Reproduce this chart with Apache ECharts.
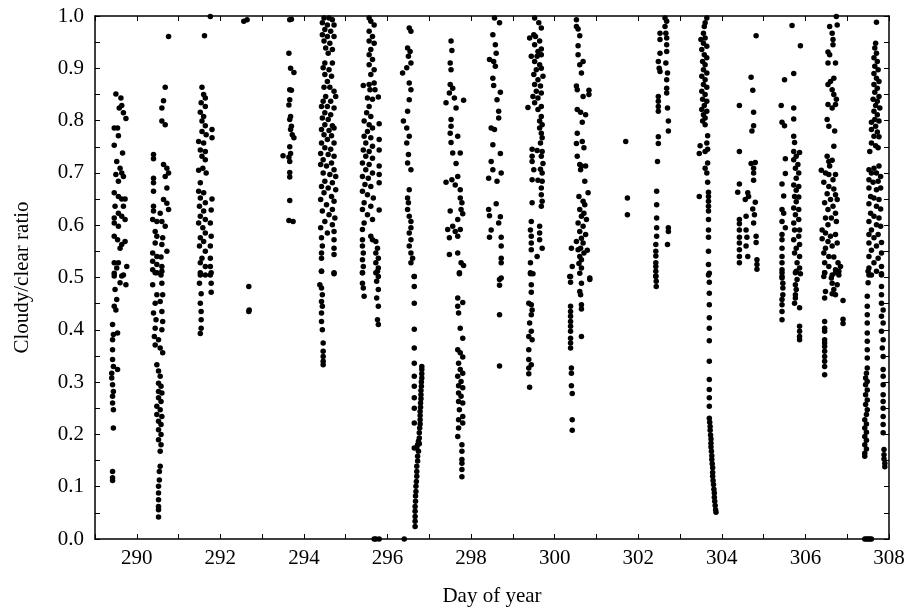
<!DOCTYPE html>
<html><head><meta charset="utf-8">
<script src="https://cdn.jsdelivr.net/npm/echarts@6/dist/echarts.min.js"></script>
<style>html,body{margin:0;padding:0;background:#fff}#c{width:911px;height:616px}</style>
</head><body><div id="c"></div>
<script>
const xMin = 289, xMax = 308;
const xTickLabels = ['290','292','294','296','298','300','302','304','306','308'];
const yTickLabels = ['0.0','0.1','0.2','0.3','0.4','0.5','0.6','0.7','0.8','0.9','1.0'];
const xName = 'Day of year';
const yName = 'Cloudy/clear ratio';

const day289 = [[289.50,0.851],[289.62,0.843],[289.64,0.829],[289.58,0.824],[289.68,0.815],[289.74,0.804],[289.46,0.786],[289.54,0.786],[289.56,0.771],[289.46,0.753],[289.66,0.738],[289.52,0.722],[289.60,0.709],[289.64,0.700],[289.50,0.697],[289.56,0.684],[289.68,0.693],[289.46,0.662],[289.56,0.655],[289.64,0.650],[289.72,0.650],[289.48,0.636],[289.68,0.636],[289.56,0.623],[289.46,0.614],[289.64,0.617],[289.72,0.611],[289.46,0.604],[289.56,0.598],[289.46,0.579],[289.54,0.572],[289.64,0.563],[289.72,0.569],[289.60,0.556],[289.46,0.528],[289.56,0.528],[289.52,0.518],[289.76,0.521],[289.64,0.503],[289.46,0.503],
[289.46,0.508],[289.68,0.505],[289.74,0.486],[289.60,0.490],[289.48,0.477],[289.52,0.458],[289.46,0.445],[289.50,0.438],[289.42,0.410],[289.44,0.391],[289.54,0.394],[289.42,0.381],[289.42,0.362],[289.42,0.343],[289.44,0.330],[289.54,0.324],[289.40,0.317],[289.40,0.308],[289.42,0.295],[289.44,0.282],[289.42,0.273],[289.42,0.260],[289.44,0.247],[289.44,0.212],[289.42,0.129],[289.42,0.117],[289.42,0.112]];

const day290 = [[290.68,0.864],[290.76,0.961],[290.64,0.838],[290.60,0.824],[290.60,0.799],[290.68,0.792],[290.40,0.735],[290.40,0.727],[290.64,0.716],[290.72,0.709],[290.76,0.700],[290.68,0.693],[290.40,0.690],[290.40,0.681],[290.72,0.671],[290.40,0.665],[290.64,0.649],[290.72,0.642],[290.40,0.636],[290.76,0.630],[290.40,0.627],[290.56,0.623],[290.38,0.611],[290.48,0.607],[290.60,0.607],[290.68,0.598],[290.44,0.588],[290.48,0.579],[290.62,0.576],[290.44,0.566],[290.60,0.563],[290.72,0.550],[290.38,0.547],[290.48,0.540],[290.58,0.539],[290.38,0.531],[290.48,0.525],[290.60,0.521],[290.38,0.515],[290.48,0.509],[290.58,0.505],
[290.44,0.509],[290.60,0.512],[290.38,0.486],[290.60,0.489],[290.48,0.467],[290.62,0.467],[290.44,0.451],[290.56,0.454],[290.40,0.432],[290.60,0.435],[290.46,0.419],[290.62,0.416],[290.44,0.403],[290.60,0.400],[290.42,0.387],[290.52,0.381],[290.44,0.371],[290.56,0.365],[290.62,0.356],[290.48,0.333],[290.52,0.321],[290.56,0.311],[290.52,0.298],[290.58,0.292],[290.52,0.282],[290.60,0.279],[290.52,0.270],[290.58,0.263],[290.48,0.254],[290.56,0.247],[290.48,0.238],[290.60,0.234],[290.52,0.225],[290.58,0.219],[290.52,0.209],[290.58,0.200],[290.52,0.190],[290.58,0.180],[290.56,0.168],[290.56,0.139],[290.54,0.129],[290.54,0.113],[290.52,0.101],[290.52,0.088],[290.52,0.075],[290.52,0.062],[290.52,0.056],[290.52,0.042]];

const day291 = [[291.76,0.999],[291.62,0.962],[291.56,0.864],[291.60,0.850],[291.64,0.843],[291.54,0.834],[291.64,0.827],[291.52,0.816],[291.60,0.808],[291.56,0.799],[291.64,0.790],[291.80,0.783],[291.56,0.779],[291.66,0.773],[291.80,0.767],[291.48,0.760],[291.60,0.757],[291.52,0.744],[291.64,0.741],[291.56,0.732],[291.64,0.725],[291.48,0.705],[291.58,0.709],[291.66,0.700],[291.52,0.681],[291.48,0.665],[291.60,0.662],[291.52,0.652],[291.80,0.650],[291.64,0.643],[291.50,0.636],[291.60,0.627],[291.78,0.629],[291.52,0.617],[291.64,0.611],[291.48,0.604],[291.58,0.595],[291.76,0.604],[291.64,0.585],[291.52,0.576],[291.78,0.579],[291.60,0.569],[291.50,0.560],[291.76,0.560],[291.64,0.550],[291.56,0.537],[291.76,0.537],[291.52,0.528],[291.64,0.521],[291.76,0.521],[291.52,0.509],[291.64,0.505],[291.76,0.505],
[291.52,0.505],[291.78,0.509],[291.50,0.489],[291.78,0.489],[291.54,0.469],[291.78,0.472],[291.52,0.451],[291.54,0.435],[291.54,0.419],[291.54,0.403],[291.52,0.393]];

const day292 = [[292.68,0.483],[292.68,0.435],[292.69,0.438],[292.56,0.990],[292.64,0.993]];

const day293 = [[293.66,0.993],[293.70,0.994],[293.64,0.929],[293.68,0.900],[293.76,0.892],[293.66,0.859],[293.70,0.858],[293.66,0.840],[293.64,0.830],[293.68,0.808],[293.66,0.802],[293.70,0.789],[293.68,0.783],[293.72,0.773],[293.76,0.767],[293.66,0.750],[293.68,0.737],[293.50,0.733],[293.64,0.730],[293.66,0.722],[293.66,0.701],[293.66,0.692],[293.66,0.647],[293.64,0.609],[293.74,0.607]];

const day294 = [[294.48,0.996],[294.60,0.996],[294.68,0.993],[294.44,0.987],[294.56,0.983],[294.72,0.983],[294.50,0.974],[294.64,0.971],[294.44,0.964],[294.56,0.961],[294.72,0.961],[294.48,0.952],[294.62,0.948],[294.52,0.939],[294.68,0.936],[294.58,0.929],[294.50,0.910],[294.68,0.910],[294.46,0.901],[294.60,0.897],[294.50,0.888],[294.66,0.885],[294.56,0.875],[294.48,0.864],[294.62,0.864],[294.72,0.856],[294.52,0.846],[294.76,0.846],[294.46,0.837],[294.64,0.837],[294.42,0.827],[294.56,0.827],[294.72,0.824],[294.50,0.815],[294.64,0.811],[294.44,0.805],[294.58,0.802],[294.50,0.792],[294.68,0.790],[294.42,0.783],[294.60,0.781],[294.72,0.786],[294.48,0.773],[294.66,0.771],[294.56,0.764],[294.42,0.757],[294.72,0.757],[294.50,0.748],[294.64,0.745],[294.40,0.737],[294.58,0.735],[294.72,0.732],[294.46,0.725],[294.66,0.719],[294.40,0.716],[294.54,0.713],[294.72,0.706],[294.46,0.700],[294.62,0.697],[294.76,0.693],[294.50,0.684],[294.68,0.681],[294.42,0.674],[294.58,0.671],[294.76,0.668],[294.48,0.662],[294.66,0.655],[294.40,0.649],[294.72,0.646],[294.54,0.639],[294.68,0.630],[294.44,0.627],[294.60,0.620],[294.74,0.614],[294.50,0.607],[294.68,0.601],[294.40,0.595],[294.72,0.588],[294.56,0.585],[294.42,0.576],[294.72,0.572],[294.44,0.560],[294.72,0.556],[294.42,0.547],[294.72,0.544],[294.42,0.537],[294.42,0.512],[294.72,0.509],
[294.42,0.512],[294.72,0.507],[294.38,0.486],[294.42,0.480],[294.44,0.467],[294.42,0.454],[294.44,0.445],[294.42,0.432],[294.42,0.416],[294.44,0.400],[294.46,0.375],[294.46,0.359],[294.46,0.349],[294.46,0.340],[294.46,0.333]];

const day295 = [[295.56,0.996],[295.60,0.990],[295.68,0.983],[295.56,0.971],[295.64,0.961],[295.56,0.952],[295.68,0.948],[295.60,0.936],[295.56,0.926],[295.64,0.917],[295.56,0.907],[295.68,0.897],[295.60,0.888],[295.42,0.867],[295.56,0.869],[295.68,0.872],[295.58,0.859],[295.70,0.859],[295.78,0.845],[295.52,0.843],[295.64,0.841],[295.56,0.827],[295.50,0.815],[295.60,0.808],[295.44,0.799],[295.56,0.792],[295.80,0.794],[295.64,0.786],[295.52,0.779],[295.44,0.770],[295.60,0.767],[295.80,0.764],[295.48,0.757],[295.64,0.751],[295.42,0.744],[295.56,0.741],[295.80,0.744],[295.48,0.732],[295.64,0.728],[295.40,0.719],[295.56,0.716],[295.80,0.713],[295.48,0.706],[295.64,0.700],[295.40,0.693],[295.54,0.690],[295.80,0.697],[295.46,0.678],[295.60,0.674],[295.80,0.681],[295.40,0.665],[295.52,0.658],[295.66,0.652],[295.44,0.643],[295.60,0.636],[295.80,0.629],[295.40,0.630],[295.52,0.620],[295.64,0.611],[295.44,0.604],[295.40,0.592],[295.60,0.579],[295.40,0.572],[295.64,0.572],
[295.40,0.560],[295.72,0.569],[295.76,0.556],[295.42,0.547],[295.72,0.547],[295.78,0.537],[295.40,0.534],[295.72,0.528],[295.42,0.521],[295.78,0.518],[295.72,0.509],[295.40,0.509],[295.78,0.502],
[295.40,0.509],[295.76,0.512],[295.40,0.489],[295.74,0.493],[295.42,0.480],[295.78,0.477],[295.44,0.464],[295.74,0.461],[295.78,0.445],[295.76,0.419],[295.78,0.410],
[295.68,0],[295.72,0],[295.80,0],[296.40,0]];

const day296 = [[296.52,0.977],[296.56,0.971],[296.48,0.939],[296.54,0.932],[296.50,0.923],[296.56,0.910],[296.46,0.901],[296.36,0.891],[296.52,0.872],[296.56,0.859],[296.52,0.840],[296.48,0.818],[296.38,0.799],[296.46,0.786],[296.52,0.770],[296.46,0.757],[296.50,0.735],[296.48,0.719],[296.56,0.706],[296.52,0.668],[296.48,0.652],[296.50,0.643],[296.48,0.630],[296.52,0.617],[296.56,0.607],[296.56,0.595],[296.52,0.585],[296.56,0.572],[296.52,0.560],[296.56,0.547],[296.60,0.537],[296.56,0.528],[296.64,0.502],
[296.64,0.502],[296.64,0.483],[296.64,0.451],[296.64,0.401],[296.64,0.365],[296.64,0.336],[296.64,0.311],[296.64,0.292],[296.64,0.270],[296.64,0.250],[296.64,0.222],[296.64,0.174],
[296.82,0.330],[296.82,0.324],[296.82,0.316],[296.82,0.308],[296.81,0.300],[296.81,0.292],[296.80,0.284],[296.80,0.276],[296.80,0.268],[296.79,0.260],[296.79,0.252],[296.78,0.244],[296.78,0.236],[296.78,0.228],[296.78,0.220],[296.77,0.212],[296.76,0.203],[296.76,0.193],[296.74,0.187],[296.72,0.180],[296.76,0.182],[296.70,0.174],[296.74,0.168],[296.72,0.158],[296.72,0.149],[296.70,0.139],[296.70,0.129],[296.70,0.120],[296.69,0.110],[296.68,0.101],[296.68,0.091],[296.67,0.082],[296.67,0.072],[296.66,0.062],[296.66,0.053],[296.66,0.043],[296.66,0.034],[296.66,0.024]];

const day297 = [[297.52,0.952],[297.54,0.934],[297.50,0.910],[297.52,0.897],[297.50,0.869],[297.56,0.862],[297.48,0.853],[297.40,0.834],[297.64,0.824],[297.82,0.839],[297.60,0.843],[297.52,0.802],[297.52,0.789],[297.50,0.776],[297.68,0.770],[297.52,0.758],[297.56,0.738],[297.74,0.738],[297.64,0.718],[297.40,0.682],[297.54,0.687],[297.68,0.693],[297.62,0.677],[297.74,0.668],[297.74,0.652],[297.78,0.643],[297.76,0.630],[297.50,0.627],[297.80,0.622],[297.68,0.611],[297.44,0.592],[297.56,0.598],[297.62,0.588],[297.74,0.592],[297.48,0.576],[297.68,0.579],[297.48,0.544],[297.68,0.547],[297.76,0.528],[297.82,0.523],[297.72,0.509],
[297.72,0.507],[297.68,0.461],[297.80,0.452],[297.68,0.445],[297.70,0.432],[297.74,0.403],[297.80,0.384],[297.68,0.362],[297.74,0.356],[297.80,0.348],[297.70,0.336],[297.74,0.324],[297.80,0.317],[297.68,0.311],[297.76,0.301],[297.70,0.293],[297.80,0.289],[297.70,0.279],[297.76,0.273],[297.70,0.263],[297.80,0.260],[297.72,0.247],[297.80,0.234],[297.70,0.228],[297.80,0.222],[297.70,0.212],[297.68,0.196],[297.78,0.180],[297.78,0.168],[297.78,0.152],[297.78,0.145],[297.78,0.133],[297.78,0.119]];

const day298 = [[298.56,0.996],[298.68,0.987],[298.52,0.964],[298.58,0.945],[298.60,0.929],[298.44,0.917],[298.54,0.913],[298.58,0.904],[298.52,0.881],[298.54,0.867],[298.70,0.854],[298.62,0.840],[298.66,0.818],[298.66,0.805],[298.48,0.786],[298.56,0.783],[298.52,0.754],[298.70,0.737],[298.48,0.722],[298.52,0.706],[298.72,0.700],[298.42,0.690],[298.62,0.684],[298.60,0.641],[298.42,0.630],[298.44,0.618],[298.70,0.616],[298.66,0.604],[298.48,0.591],[298.44,0.577],[298.72,0.577],[298.72,0.560],[298.72,0.537],[298.72,0.528],[298.72,0.499],
[298.68,0.496],[298.68,0.485],[298.68,0.429],[298.68,0.331]];

const day299 = [[299.52,0.996],[299.62,0.987],[299.68,0.977],[299.50,0.964],[299.40,0.958],[299.54,0.961],[299.64,0.952],[299.52,0.945],[299.68,0.937],[299.60,0.932],[299.44,0.923],[299.58,0.923],[299.68,0.926],[299.52,0.913],[299.64,0.907],[299.56,0.897],[299.68,0.900],[299.50,0.888],[299.72,0.885],[299.60,0.878],[299.52,0.869],[299.66,0.866],[299.56,0.856],[299.68,0.853],[299.48,0.846],[299.60,0.843],[299.52,0.834],[299.36,0.825],[299.68,0.827],[299.60,0.821],[299.68,0.808],[299.64,0.799],[299.70,0.792],[299.64,0.786],[299.68,0.776],[299.70,0.767],[299.66,0.757],[299.46,0.745],[299.58,0.743],[299.70,0.741],[299.46,0.732],[299.68,0.732],[299.46,0.722],[299.72,0.718],[299.50,0.706],[299.66,0.707],[299.70,0.700],[299.46,0.687],[299.60,0.686],[299.70,0.684],[299.68,0.671],[299.68,0.658],[299.46,0.643],[299.70,0.646],[299.68,0.636],[299.44,0.607],[299.42,0.591],[299.64,0.598],[299.64,0.585],[299.44,0.579],[299.64,0.572],[299.44,0.566],[299.70,0.556],[299.44,0.553],[299.58,0.540],[299.42,0.528],[299.42,0.509],[299.48,0.507],
[299.42,0.507],[299.44,0.486],[299.44,0.472],[299.38,0.451],[299.44,0.448],[299.46,0.438],[299.44,0.429],[299.40,0.413],[299.44,0.397],[299.38,0.387],[299.46,0.381],[299.38,0.362],[299.38,0.343],[299.44,0.333],[299.38,0.327],[299.38,0.316],[299.40,0.290]];

const day300 = [[300.52,0.993],[300.52,0.980],[300.56,0.975],[300.60,0.962],[300.56,0.943],[300.56,0.926],[300.68,0.913],[300.60,0.907],[300.64,0.891],[300.52,0.866],[300.54,0.859],[300.82,0.858],[300.82,0.850],[300.68,0.846],[300.54,0.821],[300.62,0.816],[300.74,0.811],[300.66,0.797],[300.54,0.776],[300.52,0.756],[300.66,0.760],[300.70,0.748],[300.54,0.732],[300.60,0.716],[300.64,0.713],[300.74,0.713],[300.62,0.706],[300.72,0.684],[300.80,0.662],[300.58,0.655],[300.68,0.646],[300.72,0.639],[300.60,0.630],[300.70,0.623],[300.64,0.617],[300.76,0.611],[300.56,0.604],[300.68,0.598],[300.60,0.588],[300.74,0.582],[300.64,0.575],[300.52,0.569],[300.68,0.566],[300.62,0.556],[300.40,0.556],[300.56,0.553],[300.78,0.552],[300.70,0.547],[300.60,0.540],[300.64,0.534],[300.58,0.527],[300.42,0.521],[300.64,0.518],[300.36,0.502],[300.84,0.499],
[300.38,0.502],[300.38,0.491],[300.60,0.508],[300.64,0.489],[300.84,0.496],[300.60,0.473],[300.62,0.467],[300.64,0.448],[300.64,0.440],[300.38,0.445],[300.38,0.435],[300.38,0.426],[300.38,0.416],[300.38,0.407],[300.38,0.397],[300.38,0.384],[300.38,0.375],[300.38,0.365],[300.64,0.387],[300.40,0.327],[300.40,0.317],[300.40,0.293],[300.42,0.278],[300.42,0.228],[300.42,0.208]];

const day301 = [[301.70,0.760],[301.74,0.652],[301.74,0.620]];

const day302 = [[302.64,0.996],[302.68,0.990],[302.64,0.980],[302.66,0.967],[302.52,0.967],[302.68,0.958],[302.52,0.955],[302.68,0.945],[302.68,0.932],[302.52,0.929],[302.48,0.913],[302.66,0.910],[302.50,0.900],[302.52,0.894],[302.70,0.891],[302.68,0.878],[302.68,0.862],[302.68,0.853],[302.48,0.846],[302.48,0.837],[302.48,0.827],[302.48,0.818],[302.70,0.824],[302.72,0.799],[302.72,0.780],[302.48,0.769],[302.48,0.756],[302.46,0.722],[302.44,0.665],[302.44,0.639],[302.72,0.595],[302.72,0.588],[302.44,0.614],[302.70,0.563],[302.44,0.595],[302.44,0.579],[302.42,0.563],[302.42,0.550],[302.42,0.541],[302.42,0.528],[302.42,0.521],[302.42,0.512],[302.42,0.503],[302.42,0.502],[302.43,0.493],[302.43,0.483]];

const day303 = [[303.64,0.996],[303.60,0.987],[303.58,0.980],[303.56,0.967],[303.60,0.958],[303.50,0.955],[303.56,0.948],[303.64,0.942],[303.52,0.936],[303.58,0.926],[303.64,0.920],[303.54,0.913],[303.60,0.907],[303.56,0.897],[303.64,0.891],[303.52,0.885],[303.60,0.878],[303.56,0.869],[303.64,0.864],[303.52,0.856],[303.60,0.850],[303.54,0.841],[303.64,0.837],[303.58,0.829],[303.52,0.821],[303.64,0.818],[303.56,0.811],[303.60,0.805],[303.54,0.799],[303.60,0.792],[303.66,0.771],[303.48,0.752],[303.64,0.757],[303.66,0.745],[303.46,0.737],[303.60,0.741],[303.66,0.719],[303.60,0.709],[303.64,0.700],[303.66,0.682],[303.46,0.655],[303.68,0.663],[303.68,0.655],[303.68,0.646],[303.68,0.636],[303.68,0.627],[303.68,0.611],[303.68,0.591],[303.68,0.577],[303.68,0.550],[303.68,0.525],[303.68,0.505],
[303.70,0.508],[303.70,0.491],[303.70,0.470],[303.70,0.448],[303.70,0.423],[303.70,0.403],[303.70,0.379],[303.70,0.340],[303.70,0.305],[303.70,0.286],[303.70,0.270],[303.70,0.254],
[303.70,0.231],[303.71,0.223],[303.72,0.215],[303.72,0.208],[303.73,0.199],[303.74,0.191],[303.74,0.183],[303.74,0.176],[303.75,0.168],[303.76,0.159],[303.76,0.152],[303.77,0.144],[303.78,0.136],[303.78,0.127],[303.78,0.120],[303.79,0.112],[303.80,0.104],[303.81,0.095],[303.82,0.088],[303.82,0.080],[303.83,0.072],[303.84,0.064],[303.85,0.056],[303.86,0.051]];

const day304 = [[304.82,0.962],[304.70,0.883],[304.74,0.858],[304.76,0.816],[304.76,0.790],[304.72,0.780],[304.42,0.829],[304.42,0.741],[304.70,0.718],[304.80,0.720],[304.76,0.709],[304.76,0.700],[304.76,0.686],[304.42,0.679],[304.38,0.663],[304.62,0.662],[304.64,0.655],[304.56,0.649],[304.80,0.644],[304.74,0.631],[304.58,0.617],[304.78,0.620],[304.42,0.611],[304.42,0.603],[304.76,0.604],[304.42,0.591],[304.58,0.591],[304.42,0.577],[304.60,0.577],[304.82,0.579],[304.82,0.567],[304.42,0.566],[304.58,0.560],[304.42,0.553],[304.62,0.540],[304.42,0.540],[304.42,0.528],[304.84,0.534],[304.84,0.525],[304.84,0.516]];

const day305 = [[305.68,0.982],[305.88,0.943],[305.50,0.878],[305.72,0.890],[305.42,0.829],[305.72,0.824],[305.72,0.803],[305.44,0.797],[305.50,0.790],[305.72,0.770],[305.74,0.758],[305.52,0.727],[305.72,0.741],[305.86,0.739],[305.78,0.732],[305.72,0.725],[305.82,0.716],[305.76,0.709],[305.52,0.699],[305.84,0.700],[305.78,0.690],[305.44,0.679],[305.72,0.677],[305.84,0.674],[305.78,0.667],[305.48,0.656],[305.74,0.655],[305.84,0.654],[305.78,0.645],[305.44,0.630],[305.72,0.633],[305.84,0.630],[305.48,0.623],[305.76,0.620],[305.84,0.611],[305.44,0.607],[305.72,0.604],[305.52,0.595],[305.86,0.591],[305.74,0.591],[305.44,0.582],[305.84,0.579],[305.44,0.572],[305.72,0.572],[305.86,0.563],[305.44,0.556],[305.78,0.556],[305.74,0.547],[305.44,0.540],[305.86,0.540],[305.44,0.528],[305.80,0.528],[305.86,0.518],[305.44,0.515],[305.78,0.512],[305.44,0.502],
[305.44,0.509],[305.44,0.499],[305.46,0.489],[305.46,0.480],[305.46,0.467],[305.44,0.458],[305.44,0.448],[305.44,0.435],[305.44,0.419],[305.76,0.509],[305.88,0.507],[305.80,0.496],[305.76,0.486],[305.78,0.477],[305.76,0.467],[305.76,0.461],[305.74,0.451],[305.86,0.442],[305.86,0.407],[305.86,0.397],[305.86,0.387],[305.86,0.381]];

const day306 = [[306.74,0.999],[306.76,0.983],[306.58,0.980],[306.64,0.967],[306.66,0.955],[306.66,0.945],[306.54,0.931],[306.58,0.926],[306.54,0.910],[306.72,0.910],[306.68,0.881],[306.60,0.875],[306.54,0.869],[306.64,0.859],[306.68,0.850],[306.74,0.841],[306.54,0.831],[306.72,0.831],[306.64,0.824],[306.52,0.802],[306.56,0.789],[306.70,0.780],[306.68,0.751],[306.52,0.732],[306.56,0.722],[306.64,0.724],[306.58,0.713],[306.38,0.705],[306.48,0.700],[306.56,0.697],[306.72,0.697],[306.66,0.687],[306.44,0.682],[306.56,0.674],[306.68,0.669],[306.52,0.660],[306.72,0.658],[306.60,0.649],[306.76,0.649],[306.46,0.643],[306.66,0.636],[306.54,0.630],[306.72,0.623],[306.48,0.614],[306.62,0.614],[306.74,0.607],[306.54,0.601],[306.40,0.591],[306.48,0.585],[306.60,0.579],[306.72,0.582],[306.40,0.574],[306.54,0.569],[306.76,0.566],[306.48,0.556],[306.64,0.560],[306.44,0.547],[306.56,0.540],[306.68,0.539],[306.78,0.528],[306.46,0.528],[306.84,0.521],[306.56,0.521],[306.72,0.515],[306.80,0.512],[306.46,0.509],[306.64,0.505],
[306.46,0.509],[306.44,0.502],[306.62,0.499],[306.72,0.509],[306.80,0.505],[306.64,0.489],[306.76,0.486],[306.68,0.477],[306.48,0.473],[306.72,0.467],[306.64,0.469],[306.46,0.461],[306.90,0.456],[306.90,0.420],[306.90,0.412],[306.46,0.416],[306.46,0.403],[306.46,0.397],[306.46,0.381],[306.46,0.375],[306.46,0.368],[306.46,0.359],[306.46,0.349],[306.46,0.340],[306.46,0.330],[306.46,0.314]];

const day307 = [[307.70,0.988],[307.68,0.948],[307.66,0.939],[307.70,0.929],[307.64,0.920],[307.72,0.913],[307.66,0.904],[307.74,0.897],[307.64,0.890],[307.70,0.881],[307.76,0.875],[307.64,0.869],[307.72,0.862],[307.66,0.854],[307.76,0.846],[307.62,0.841],[307.72,0.837],[307.68,0.829],[307.78,0.824],[307.64,0.818],[307.72,0.811],[307.66,0.802],[307.58,0.797],[307.76,0.799],[307.68,0.789],[307.58,0.783],[307.72,0.778],[307.64,0.770],[307.76,0.769],[307.58,0.757],[307.68,0.752],[307.54,0.741],[307.74,0.748],
[307.52,0.706],[307.64,0.709],[307.58,0.700],[307.76,0.713],[307.70,0.700],[307.80,0.693],[307.52,0.687],[307.62,0.682],[307.74,0.684],[307.52,0.671],[307.70,0.668],[307.80,0.671],[307.56,0.655],[307.64,0.652],[307.76,0.649],[307.52,0.641],[307.70,0.636],[307.80,0.631],[307.56,0.623],[307.64,0.617],[307.76,0.614],[307.52,0.607],[307.70,0.601],[307.80,0.598],[307.58,0.591],[307.52,0.582],[307.74,0.582],[307.64,0.576],[307.82,0.567],[307.52,0.566],[307.70,0.560],[307.58,0.552],[307.82,0.547],[307.52,0.540],[307.74,0.537],[307.64,0.528],[307.52,0.518],[307.82,0.521],[307.70,0.512],[307.52,0.505],[307.82,0.505],
[307.50,0.512],[307.58,0.505],[307.82,0.507],[307.50,0.490],[307.82,0.483],[307.48,0.464],[307.82,0.467],[307.48,0.445],[307.82,0.451],[307.86,0.438],[307.48,0.429],[307.82,0.426],[307.48,0.413],[307.86,0.413],[307.48,0.394],[307.82,0.397],[307.48,0.378],[307.86,0.381],[307.48,0.362],[307.84,0.365],[307.48,0.346],[307.86,0.349],[307.48,0.327],[307.46,0.317],[307.44,0.308],[307.48,0.301],[307.44,0.295],[307.86,0.324],[307.86,0.311],[307.86,0.295],[307.48,0.285],[307.44,0.276],[307.86,0.276],[307.48,0.266],[307.86,0.263],[307.44,0.257],[307.48,0.247],[307.86,0.250],[307.46,0.238],[307.86,0.234],[307.42,0.228],[307.46,0.220],[307.86,0.219],[307.42,0.212],[307.46,0.204],[307.86,0.203],[307.42,0.196],[307.46,0.189],[307.42,0.180],[307.46,0.172],[307.42,0.164],[307.42,0.158],[307.88,0.171],[307.88,0.161],[307.88,0.153],[307.90,0.145],[307.90,0.138],
[307.42,0],[307.46,0],[307.50,0],[307.54,0],[307.58,0]];

const clusters = [day289, day290, day291, day292, day293, day294, day295, day296, day297, day298, day299, day300, day301, day302, day303, day304, day305, day306, day307];

const font = 'Liberation Serif';
const fs = 21;
const chart = echarts.init(document.getElementById('c'), null, {renderer: 'canvas'});
const axisLine = {onZero: false, lineStyle: {color: '#000', width: 1.5}};
const tickIn = {inside: true, length: 5, lineStyle: {color: '#000', width: 1}};
const minorIn = {show: true, splitNumber: 2, length: 5, lineStyle: {color: '#000', width: 1}};
const allData = [].concat(...clusters);
chart.setOption({
  animation: false,
  backgroundColor: '#fff',
  grid: {left: 95, right: 22, top: 16, bottom: 77},
  xAxis: [{
    type: 'value', min: xMin, max: xMax, interval: 1,
    name: xName, nameLocation: 'middle', nameGap: 47,
    nameTextStyle: {fontFamily: font, fontSize: fs, color: '#000'},
    axisLine, axisTick: tickIn, splitLine: {show: false},
    axisLabel: {fontFamily: font, fontSize: fs, color: '#000', margin: 9,
      formatter: v => xTickLabels.includes(String(v)) ? String(v) : ''}
  }, {
    type: 'value', min: xMin, max: xMax, interval: 1, position: 'top',
    axisLine, axisTick: tickIn, splitLine: {show: false}, axisLabel: {show: false}
  }],
  yAxis: [{
    type: 'value', min: 0, max: 1, interval: 0.1,
    name: yName, nameLocation: 'middle', nameGap: 62,
    nameTextStyle: {fontFamily: font, fontSize: fs, color: '#000'},
    axisLine, axisTick: tickIn, minorTick: minorIn, splitLine: {show: false},
    axisLabel: {fontFamily: font, fontSize: fs, color: '#000', margin: 11,
      formatter: v => yTickLabels[Math.round(v * 10)]}
  }, {
    type: 'value', min: 0, max: 1, interval: 0.1, position: 'right',
    axisLine, axisTick: tickIn, minorTick: minorIn, splitLine: {show: false}, axisLabel: {show: false}
  }],
  series: [{
    type: 'scatter', data: allData, symbolSize: 5.5,
    itemStyle: {color: '#000', opacity: 1}, clip: false
  }]
});
</script></body></html>
